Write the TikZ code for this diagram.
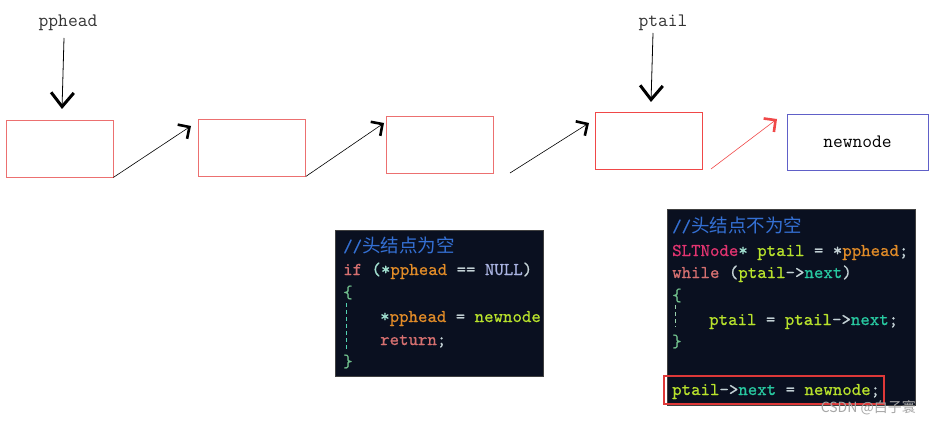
\documentclass[tikz,border=0pt]{standalone}
\usepackage{fontspec}
\usetikzlibrary{arrows.meta, positioning}
\newfontfamily\cjk{Noto Sans CJK SC}
\newfontfamily\codefont[Extension=.otf, FakeBold=0.6]{lmmono10-regular}
\definecolor{ListRed}{RGB}{236, 112, 112}
\definecolor{TailRed}{RGB}{240, 72, 72}
\definecolor{NewBlue}{RGB}{96, 96, 200}
\definecolor{CodeBg}{RGB}{10, 16, 32}
\definecolor{CodeCmt}{RGB}{52, 112, 212}
\definecolor{CodeKey}{RGB}{214, 112, 112}
\definecolor{CodeOp}{RGB}{196, 210, 214}
\definecolor{CodePunct}{RGB}{160, 222, 206}
\definecolor{CodeVar}{RGB}{184, 226, 44}
\definecolor{CodeArg}{RGB}{226, 140, 40}
\definecolor{CodeConst}{RGB}{170, 180, 226}
\definecolor{CodeField}{RGB}{40, 200, 160}
\definecolor{CodeType}{RGB}{226, 52, 112}
\definecolor{CodeBrace}{RGB}{112, 190, 140}
\definecolor{MarkRed}{RGB}{222, 56, 56}

\begin{document}
\begin{tikzpicture}[x=1pt, y=-1pt,
    listnode/.style={draw=ListRed, line width=0.8pt, minimum width=107pt, minimum height=57pt, inner sep=0pt},
    newbox/.style={draw=NewBlue, line width=0.8pt, minimum width=141pt, minimum height=56pt, inner sep=0pt},
    link/.style={line width=0.6pt, -{Straight Barb[angle=90:12pt, line width=2.6pt]}},
    ptr/.style={line width=0.8pt, -{Straight Barb[angle=78:18pt, line width=3pt]}},
    label/.style={font=\fontsize{19}{20}\selectfont\ttfamily, text=black!80, inner sep=0pt},
    codebox/.style={fill=CodeBg, draw=gray!50!black, line width=0.6pt},
    codeline/.style={anchor=base west, inner sep=0pt, text=CodeOp, font=\codefont\fontsize{18}{20}\selectfont},
    guide/.style={dashed, line width=0.8pt, dash pattern=on 4pt off 3pt}]
  \useasboundingbox (0,0) rectangle (931,425);

  % list nodes
  \node[listnode] (n1) at (59.5,148.5) {};
  \node[listnode] (n2) at (252,147.5) {};
  \node[listnode] (n3) at (439.5,145) {};
  \node[listnode, draw=TailRed] (n4) at (648.5,141) {};
  \node[newbox] (nn) at (857.5,142) {\fontsize{19}{20}\selectfont\ttfamily newnode};

  % pointers
  \node[label] (ph) at (68,23) {pphead};
  \node[label] (pt) at (663,23) {ptail};
  \coordinate (phs) at (64,38);
  \coordinate (phtip) at (62,109);
  \coordinate (pts) at (653,33);
  \coordinate (pttip) at (651,102);
  \draw[ptr] (phs) -- (phtip);
  \draw[ptr] (pts) -- (pttip);

  % links
  \coordinate (l1) at (191,126);
  \coordinate (l2) at (384,123);
  \coordinate (s3) at (510,173);
  \coordinate (l3) at (589,123);
  \coordinate (s4) at (711,169);
  \coordinate (l4) at (777,119);
  \draw[link] (n1.south east) -- (l1);
  \draw[link] (n2.south east) -- (l2);
  \draw[link] (s3) -- (l3);
  \draw[link, draw=TailRed, color=TailRed] (s4) -- (l4);

  % code: head is empty
  \draw[codebox] (335,230) rectangle (543,376);
  \begin{scope}
    \clip (335,230) rectangle (543,376);
    \node[codeline] (a1) at (343,252) {\textcolor{CodeCmt}{//{\cjk\fontsize{18.5}{20}\selectfont 头结点为空}}};
    \node[codeline] (a2) at (343,275) {\textcolor{CodeKey}{if} \textcolor{CodePunct}{(*}\textcolor{CodeArg}{pphead} == \textcolor{CodeConst}{NULL})};
    \node[codeline] (a3) at (343,298) {\textcolor{CodeBrace}{\{}};
    \node[codeline] (a4) at (380,322) {\textcolor{CodePunct}{*}\textcolor{CodeArg}{pphead} = \textcolor{CodeVar}{newnode};};
    \node[codeline] (a5) at (380,345) {\textcolor{CodeKey}{return};};
    \node[codeline] (a6) at (343,367) {\textcolor{CodeBrace}{\}}};
  \end{scope}
  \draw[guide, draw=CodeField!80] (346.5,303) -- (346.5,350);

  % code: head is not empty
  \draw[codebox] (667,209) rectangle (915,405);
  \node[codeline] (b1) at (672,232) {\textcolor{CodeCmt}{//{\cjk\fontsize{18.5}{20}\selectfont 头结点不为空}}};
  \node[codeline] (b2) at (672,256) {\textcolor{CodeType}{SLTNode}\textcolor{CodePunct}{*} \textcolor{CodeVar}{ptail} = *\textcolor{CodeArg}{pphead};};
  \node[codeline] (b3) at (672,278) {\textcolor{CodeKey}{while} (\textcolor{CodeVar}{ptail}->\textcolor{CodeField}{next})};
  \node[codeline] (b4) at (672,301) {\textcolor{CodeBrace}{\{}};
  \node[codeline] (b5) at (709,325) {\textcolor{CodeVar}{ptail} = \textcolor{CodeVar}{ptail}->\textcolor{CodeField}{next};};
  \node[codeline] (b6) at (672,347) {\textcolor{CodeBrace}{\}}};
  \node[codeline] (b7) at (672,395) {\textcolor{CodeVar}{ptail}->\textcolor{CodeField}{next} = \textcolor{CodeVar}{newnode};};
  \draw[guide, draw=CodeBrace!70] (675.5,305) -- (675.5,327);
  \draw[MarkRed, line width=2pt] (664,376) rectangle (884,404);

  % watermark
  \node[anchor=east, inner sep=0pt, text=gray!70, font=\cjk\fontsize{14}{16}\selectfont] (wm) at (916,408) {CSDN @白子寰};
\end{tikzpicture}
\end{document}
